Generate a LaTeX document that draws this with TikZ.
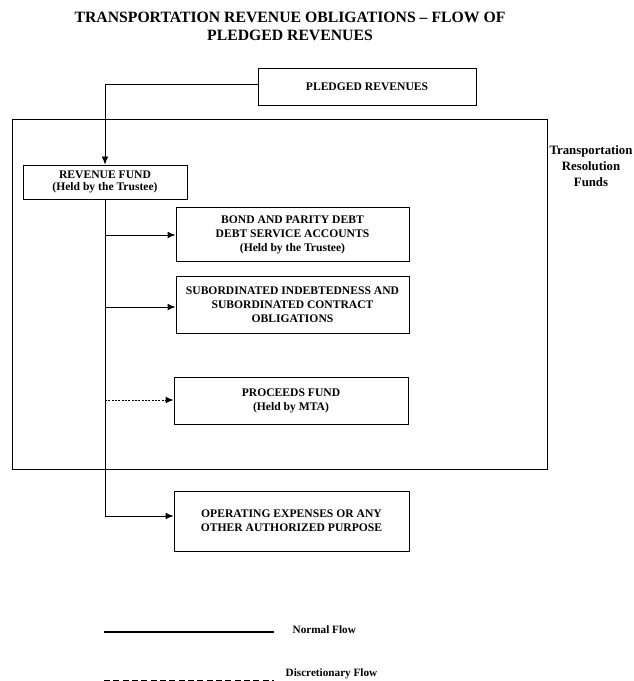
\documentclass[tikz,border=0pt]{standalone}
\usepackage{fontspec}
\setmainfont{Liberation Serif}
\usetikzlibrary{arrows.meta}
\begin{document}
\begin{tikzpicture}[x=0.75pt,y=-0.75pt,
  box/.style={draw,line width=0.65pt,inner sep=0pt,align=center,font=\fontsize{8.7}{10.5}\selectfont\bfseries},
  flow/.style={line width=0.65pt,-{Latex[length=6pt,width=5pt]}},
  disc/.style={flow,dash pattern=on 1.5pt off 1pt},
  lbl/.style={font=\fontsize{8.7}{10.5}\selectfont\bfseries,align=center}]
\useasboundingbox (0,0) rectangle (634,681);
\node[font=\fontsize{11.8}{13.5}\selectfont\bfseries,align=center] (title) at (290,26) {TRANSPORTATION REVENUE OBLIGATIONS -- FLOW OF\\PLEDGED REVENUES};
\draw[line width=0.65pt] (12,119) rectangle (547,469);
\node[lbl,font=\fontsize{9.6}{12}\selectfont\bfseries] (trf) at (591,166) {Transportation\\Resolution\\Funds};
\node[box,minimum width=218*0.75pt,minimum height=37*0.75pt] (pledged) at (367,86.5) {PLEDGED REVENUES};
\node[box,minimum width=164*0.75pt,minimum height=34*0.75pt,font=\fontsize{8.7}{9}\selectfont\bfseries] (revenue) at (105,182) {\rule{0pt}{1.4ex}REVENUE FUND\\(Held by the Trustee)};
\node[box,minimum width=233*0.75pt,minimum height=54*0.75pt] (bond) at (292.5,234) {\rule{0pt}{1.6ex}BOND AND PARITY DEBT\\DEBT SERVICE ACCOUNTS\\(Held by the Trustee)};
\node[box,minimum width=233*0.75pt,minimum height=57*0.75pt] (sub) at (292.5,304.5) {SUBORDINATED INDEBTEDNESS AND\\SUBORDINATED CONTRACT\\OBLIGATIONS};
\node[box,minimum width=234*0.75pt,minimum height=47*0.75pt] (proc) at (291,400.5) {PROCEEDS FUND\\(Held by MTA)};
\node[box,minimum width=235*0.75pt,minimum height=60*0.75pt] (oper) at (291.5,521) {OPERATING EXPENSES OR ANY\\OTHER AUTHORIZED PURPOSE};
\coordinate (bend) at (105,84);
\draw[flow] (pledged.west |- bend) -- (bend) -- (revenue.north);
\coordinate (bottom) at (105,516);
\draw[line width=0.65pt] (revenue.south) -- (bottom);
\coordinate (b1) at (105,235);
\coordinate (b2) at (105,307);
\coordinate (b3) at (105,400);
\draw[flow] (b1) -- (bond.west |- b1);
\draw[flow] (b2) -- (sub.west |- b2);
\draw[disc] (b3) -- (proc.west |- b3);
\draw[flow] (bottom) -- (oper.west |- bottom);
\coordinate (n1) at (104,632);
\coordinate (n2) at (274,632);
\draw[line width=0.8pt] (n1) -- (n2);
\node[lbl,anchor=west,font=\fontsize{8.4}{10}\selectfont\bfseries] (nf) at (288,630) {Normal Flow};
\coordinate (d1) at (104,680);
\coordinate (d2) at (274,680);
\draw[line width=0.7pt,dash pattern=on 4.5pt off 2.5pt] (d1) -- (d2);
\node[lbl,anchor=west,font=\fontsize{8.4}{10}\selectfont\bfseries] (df) at (281,674) {Discretionary Flow};
\end{tikzpicture}
\end{document}
